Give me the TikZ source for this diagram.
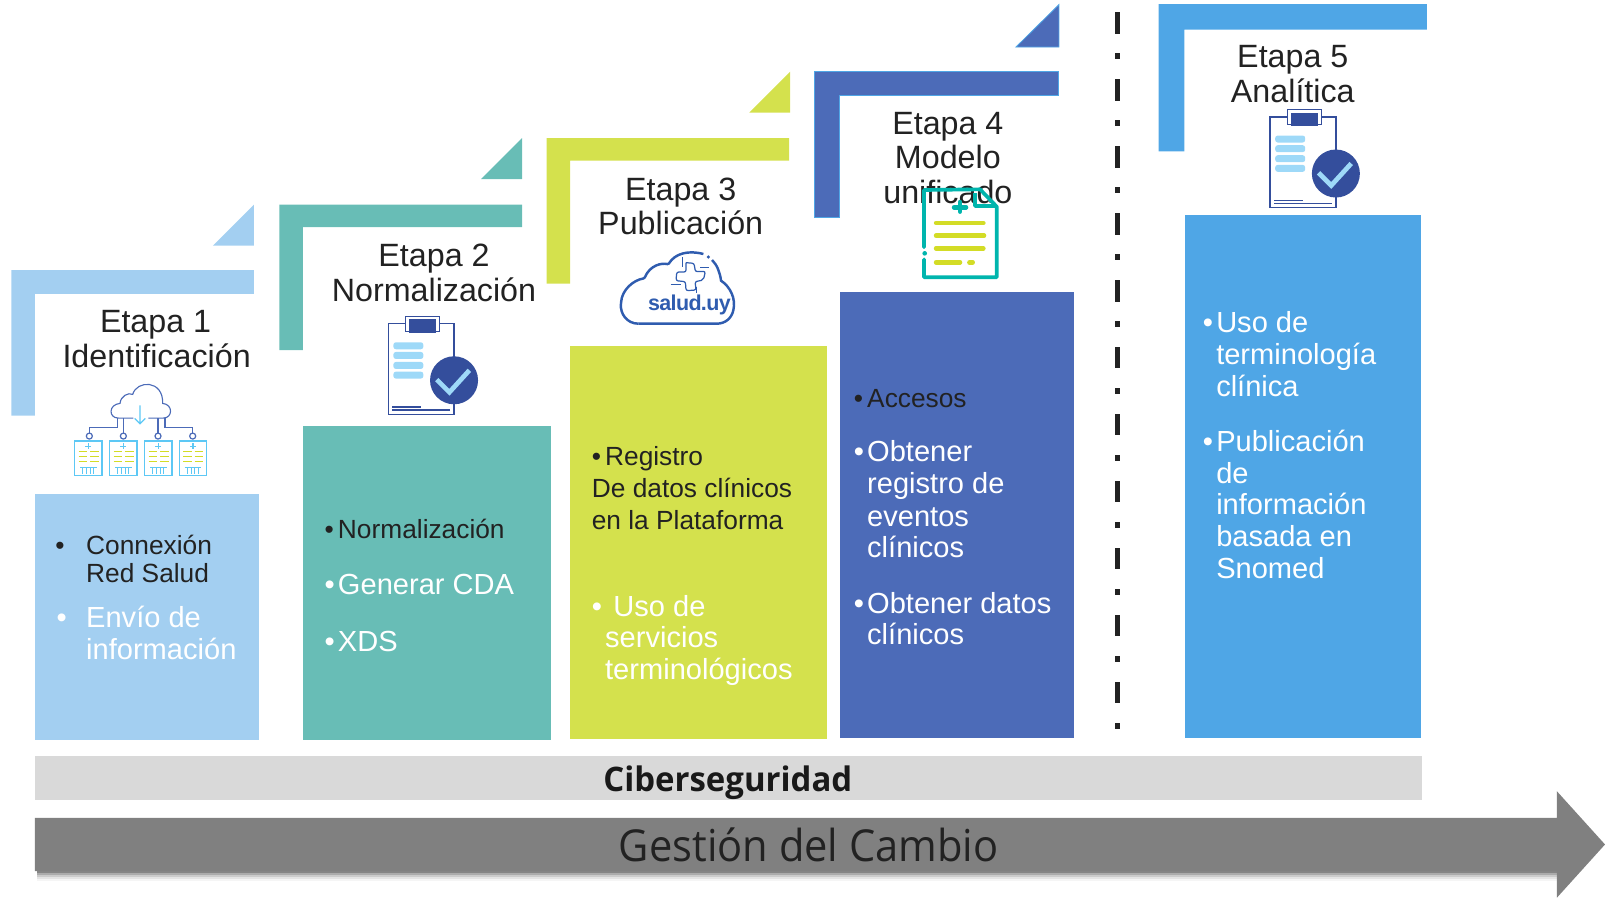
\documentclass[tikz,border=0pt]{standalone}
\usepackage{fontspec}
\setmainfont{Liberation Sans}
\newfontfamily\barfont{Open Sans}
\usetikzlibrary{calc}
\definecolor{cLight}{HTML}{A3CFF1}
\definecolor{cTeal}{HTML}{68BDB6}
\definecolor{cLime}{HTML}{D4E14D}
\definecolor{cBlue}{HTML}{4C6BB8}
\definecolor{cSky}{HTML}{4FA6E6}
\definecolor{cDark}{HTML}{344E9C}
\definecolor{cIce}{HTML}{9ED9F8}
\definecolor{cCyan}{HTML}{5DC8F5}
\definecolor{cGreenT}{HTML}{00B5AD}
\definecolor{cYel}{HTML}{D3DC26}
\definecolor{cCloud}{HTML}{2F5CAF}
\definecolor{cTxt}{HTML}{222222}
\tikzset{
  title/.style={anchor=base,inner sep=0pt,yshift=-1pt,text=cTxt,font=\fontsize{31.5}{31.5}\selectfont},
  small/.style={anchor=base west,inner sep=0pt,yshift=-1pt,text=cTxt,font=\fontsize{25.7}{25.7}\selectfont},
  big/.style={anchor=base west,inner sep=0pt,yshift=-1pt,text=white,font=\fontsize{28.4}{28.4}\selectfont},
  zoomed/.style={x=0.3257pt,y=-0.3257pt},
}
\newcommand{\clipicon}[1]{%
\begin{scope}[shift={#1},zoomed]
  \draw[cDark,line width=1.4pt] (55,68) rectangle (252,340);
  \fill[white] (105,45) rectangle (207,90);
  \draw[cDark,line width=.7pt] (105,45) rectangle (207,90);
  \fill[cDark] (117,55) rectangle (197,95);
  \foreach \yy in {124,153,183,212}
    \fill[cIce,rounded corners=2.5pt] (70,\yy) rectangle (160,\yy+21);
  \fill[cDark] (252,238) circle (72);
  \draw[cIce,line width=4.6pt] (200,236) -- (238,274) -- (298,208);
  \draw[cDark,line width=1.1pt] (67,318) -- (152,318) (67,327) -- (240,327);
\end{scope}}
\begin{document}
\begin{tikzpicture}[x=1pt,y=-1pt]
\useasboundingbox (0,0) rectangle (1568,877.3);
% stage 1
\fill[cLight] (11,264) -- (248,264) -- (248,287) -- (34,287) -- (34,406) -- (11,406) -- cycle;
\fill[cLight] (248,200) -- (248,240) -- (208,240) -- cycle;
\fill[cLight] (34,483) rectangle (253,722.5);
% stage 2
\fill[cTeal] (273,200) -- (510,200) -- (510,222) -- (296,222) -- (296,342) -- (273,342) -- cycle;
\fill[cTeal] (510,135) -- (510,175) -- (470,175) -- cycle;
\fill[cTeal] (296,416) rectangle (538,722.5);
% stage 3
\fill[cLime] (534,135) -- (771,135) -- (771,157) -- (557,157) -- (557,277) -- (534,277) -- cycle;
\fill[cLime] (772,70) -- (772,110) -- (732,110) -- cycle;
\fill[cLime] (557,338) rectangle (808,722);
% stage 4
\filldraw[fill=cBlue,draw=cSky,line width=.8pt] (795.5,69.5) -- (1034,69.5) -- (1034,93) -- (820,93) -- (820,212) -- (795.5,212) -- cycle;
\filldraw[fill=cBlue,draw=cSky,line width=.8pt] (1034.5,4.5) -- (1034.5,46) -- (992.5,46) -- cycle;
\fill[cBlue] (821,285) rectangle (1049,721);
% stage 5
\fill[cSky] (1132,4) -- (1394,4) -- (1394,29) -- (1157,29) -- (1157,148) -- (1132,148) -- cycle;
\fill[cSky] (1158,210) rectangle (1388,721);
% separator
\foreach \yy in {0,...,10} {
  \fill[cTxt] (1089.5,12+65.4*\yy) rectangle (1094.5,33+65.4*\yy);
  \fill[cTxt] (1089.5,52+65.4*\yy) rectangle (1094.5,58+65.4*\yy);
}
% bars
\fill[black!15] (34,739) rectangle (1389,782);
\foreach \dd/\op in {2/.22,4/.16,6/.11,8/.07,10/.04}
  \fill[black,opacity=\op] (36,851) rectangle (1521,851+\dd);
\fill[black!50] (34,799) -- (1521,799) -- (1521,773) -- (1568,825) -- (1521,877) -- (1521,851) -- (34,851) -- cycle;
\node[anchor=base,inner sep=0pt,xscale=.975,text=black!90,font={\barfont\bfseries\fontsize{33}{33}\selectfont}] (ciber) at (711,773) {Ciberseguridad};
\node[anchor=base,inner sep=0pt,xscale=.945,text=cTxt,font={\barfont\fontsize{43}{43}\selectfont}] (cambio) at (790,842) {Gestión del Cambio};
% titles
\node[title] (t1a) at (152,324) {Etapa 1};
\node[title] (t1b) at (153,358) {Identificación};
\node[title] (t2a) at (424,259) {Etapa 2};
\node[title] (t2b) at (424,294) {Normalización};
\node[title] (t3a) at (665,195) {Etapa 3};
\node[title] (t3b) at (665,228) {Publicación};
\node[title] (t4a) at (926,130) {Etapa 4};
\node[title] (t4b) at (926,164) {Modelo};
\node[title] (t4c) at (926,198) {unificado};
\node[title] (t5a) at (1263,65) {Etapa 5};
\node[title] (t5b) at (1263,99) {Analítica};
% box 1 text
\node[small] (b1) at (54,541) {•};
\node[small] (a1) at (84,541) {Connexión};
\node[small] (a2) at (84,568) {Red Salud};
\node[big] (b2) at (55,612) {•};
\node[big] (a3) at (84,612) {Envío de};
\node[big] (a4) at (84,643) {información};
% box 2 text
\node[small] (b3) at (317,525) {•};
\node[small] (c1) at (330,525) {Normalización};
\node[big] (b4) at (317,580) {•};
\node[big] (c2) at (330,580) {Generar CDA};
\node[big] (b5) at (317,635) {•};
\node[big] (c3) at (330,635) {XDS};
% box 3 text
\node[small] (b6) at (578,454) {•};
\node[small] (d1) at (591,454) {Registro};
\node[small] (d2) at (578,485) {De datos clínicos};
\node[small] (d3) at (578,516) {en la Plataforma};
\node[big] (b7) at (578,601) {•};
\node[big] (d4) at (599,601) {Uso de};
\node[big] (d5) at (591,632) {servicios};
\node[big] (d6) at (591,663) {terminológicos};
% box 4 text
\node[small] (b8) at (834,397) {•};
\node[small] (e1) at (847,397) {Accesos};
\node[big] (b9) at (834,450) {•};
\node[big] (e2) at (847,450) {Obtener};
\node[big] (e3) at (847,481) {registro de};
\node[big] (e4) at (847,513) {eventos};
\node[big] (e5) at (847,544) {clínicos};
\node[big] (b10) at (834,598) {•};
\node[big] (e6) at (847,598) {Obtener datos};
\node[big] (e7) at (847,629) {clínicos};
% box 5 text
\node[big] (b11) at (1175,324) {•};
\node[big] (f1) at (1188,324) {Uso de};
\node[big] (f2) at (1188,355) {terminología};
\node[big] (f3) at (1188,386) {clínica};
\node[big] (b12) at (1175,440) {•};
\node[big] (f4) at (1188,440) {Publicación};
\node[big] (f5) at (1188,471) {de};
\node[big] (f6) at (1188,502) {información};
\node[big] (f7) at (1188,533) {basada en};
\node[big] (f8) at (1188,564) {Snomed};
% icon 1: cloud and servers
\begin{scope}[shift={(0,253.4)},zoomed]
  \draw[cBlue,line width=1.1pt] (400,476) -- (355,476) .. controls (325,476) and (325,435) .. (360,432) .. controls (362,410) and (385,398) .. (398,405) .. controls (410,362) and (490,360) .. (488,432) .. controls (520,435) and (518,476) .. (490,476) -- (445,476);
  \draw[cCyan,line width=1.3pt] (420,438) -- (420,493) (404,477) -- (420,493) -- (436,477);
  \draw[cBlue,line width=1.1pt] (352,476) -- (352,503) -- (268,503) -- (268,521)
    (370,476) -- (370,521) (474,476) -- (474,521)
    (495,476) -- (495,503) -- (578,503) -- (578,521);
  \foreach \cx in {268,370,474,578} \draw[cBlue,line width=1.2pt] (\cx,530) circle (9);
  \foreach \ox in {0,105,210,314} {
    \begin{scope}[xshift=\ox*0.3257pt]
      \draw[cCyan,line width=1.3pt] (224,545) rectangle (306,649);
      \draw[cCyan,line width=1.2pt] (256,561) -- (274,561) (265,552) -- (265,570);
      \foreach \yy in {577,592,607} {
        \draw[cYel,line width=1.4pt] (236,\yy) -- (262,\yy) (270,\yy) -- (296,\yy);
      }
      \draw[cCyan,line width=1pt] (240,623) -- (290,623) (248,623) -- (248,645) (259,623) -- (259,645) (270,623) -- (270,645) (281,623) -- (281,645);
    \end{scope}
  }
\end{scope}
% icon 2 and 5: clipboard
\clipicon{(361.5,294)}
\clipicon{(1223,92)}
% icon 3: salud.uy cloud
\begin{scope}[shift={(586.2,224.7)},zoomed]
  \draw[cCloud,line width=2.4pt,rounded corners=1pt] (115,281) .. controls (80,281) and (60,250) .. (63,220) .. controls (65,180) and (100,150) .. (133,145) .. controls (150,105) and (185,98) .. (205,103) .. controls (225,70) and (265,60) .. (310,72);
  \draw[cCloud,line width=2.4pt] (336,90) .. controls (352,105) and (360,130) .. (363,152) .. controls (390,170) and (408,205) .. (400,240) .. controls (395,265) and (375,281) .. (350,281) -- (115,281);
  \fill[cCloud] (325,81) circle (5.5);
  \draw[cCloud,line width=1.2pt,rounded corners=2pt] (258,98) -- (258,126) -- (230,126) -- (228,152) -- (256,155) -- (258,182) -- (288,180) -- (285,155) -- (310,150) -- (316,124) -- (286,125) -- (282,100) -- (258,98);
  \draw[cCloud,line width=1.2pt] (212,163) -- (244,163) (248,82) -- (248,112) (300,113) -- (326,113) (290,170) -- (290,190);
  \node[inner sep=0pt,text=cCloud,font=\fontsize{21}{21}\bfseries\selectfont] (salud) at (268,226) {\addfontfeature{LetterSpace=-3}salud.uy};
\end{scope}
% icon 4: document
\begin{scope}[shift={(840.2,156.3)},zoomed]
  \draw[cGreenT,line width=3.6pt,line join=round,line cap=round] (192,262) -- (192,90) -- (360,88) -- (410,140) -- (410,352) -- (192,352) -- (192,298);
  \fill[cGreenT] (194,280) circle (7);
  \draw[cGreenT,line width=3.6pt,line join=round] (345,100) -- (345,138) -- (405,138);
  \draw[cGreenT,line width=4.4pt,line cap=round] (282,142) -- (318,142) (300,126) -- (300,155);
  \draw[cYel,line width=4.4pt,line cap=round] (228,189) -- (370,189) (228,227) -- (372,227) (228,265) -- (370,265) (228,307) -- (300,307) (328,307) -- (338,307);
\end{scope}
\end{tikzpicture}
\end{document}
